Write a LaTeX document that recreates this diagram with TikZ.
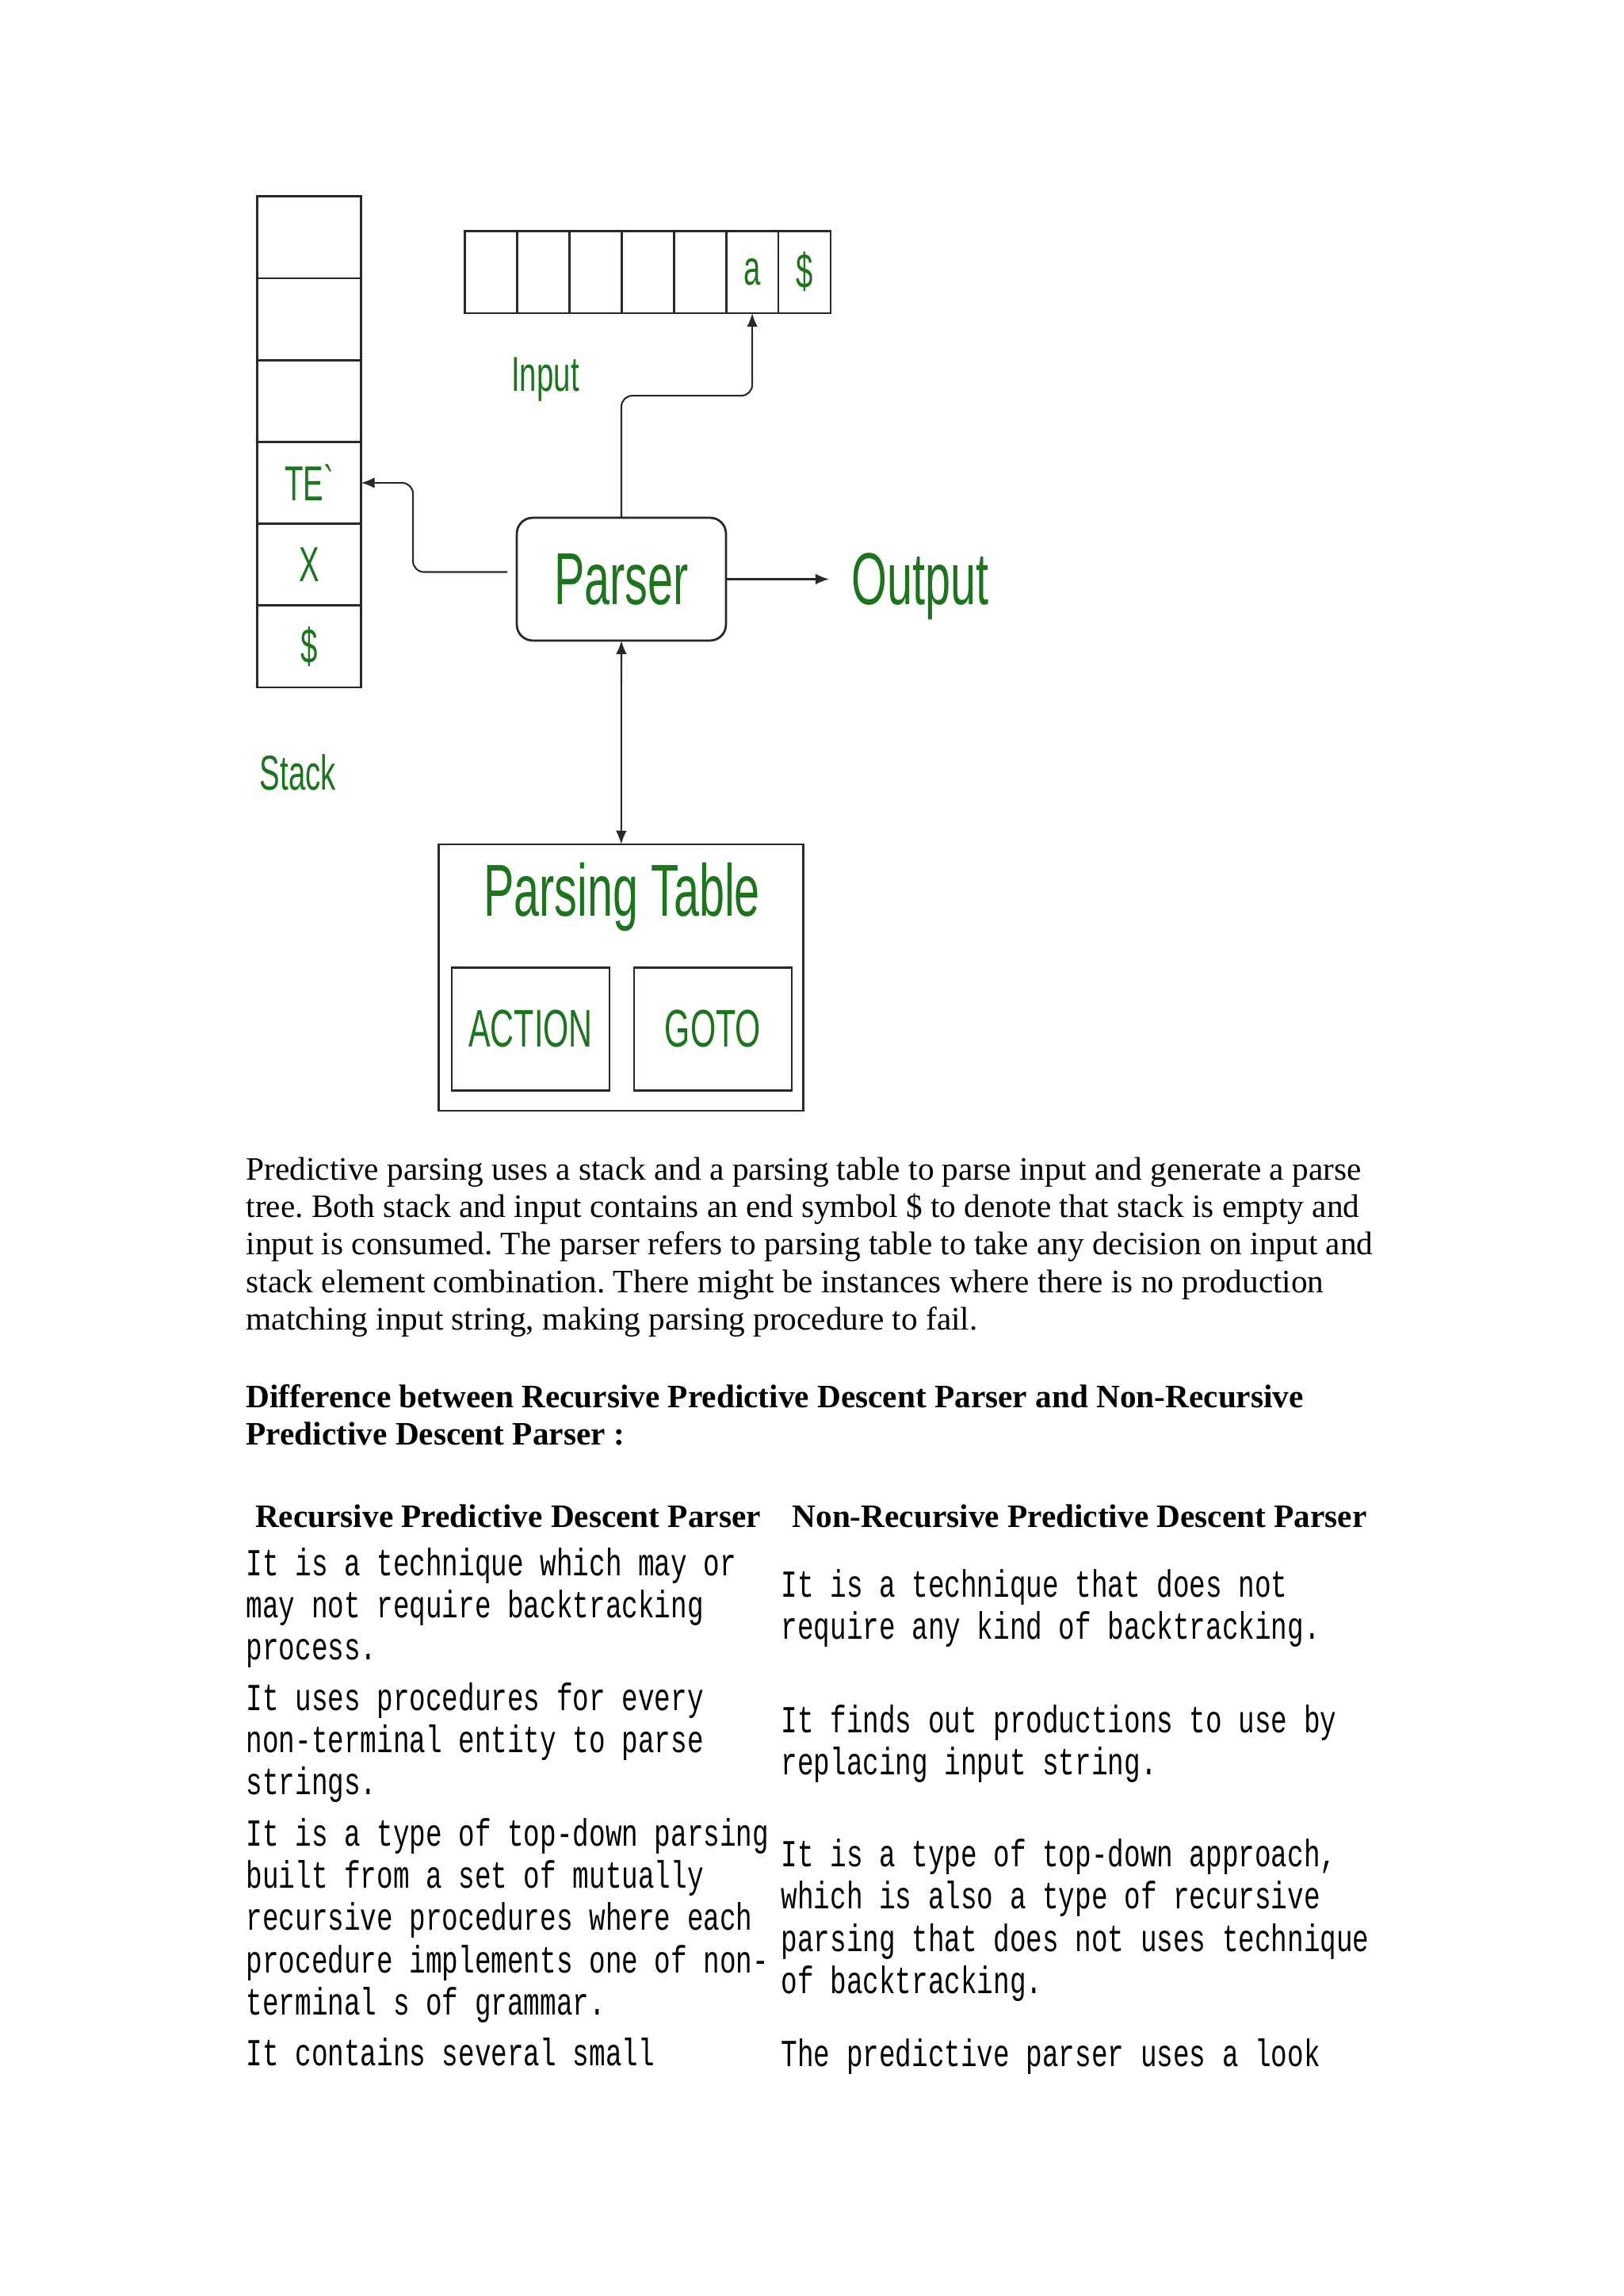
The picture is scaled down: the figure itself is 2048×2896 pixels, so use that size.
\documentclass[tikz,border=0pt]{standalone}
\usepackage{fontspec}
\setmainfont{Liberation Serif}
\newfontfamily\diagfont[FakeStretch=0.62]{Liberation Sans}
\newfontfamily\cellfont[FakeStretch=0.713]{Liberation Mono}
\usetikzlibrary{arrows.meta,positioning,calc}
\definecolor{labelgreen}{RGB}{30,115,30}
\definecolor{linegray}{RGB}{40,40,40}
\newcommand\celltext[1]{\begin{tabular}[t]{@{}l@{}}#1\end{tabular}}
\frenchspacing

\begin{document}
\begin{tikzpicture}[x=0.29066pt,y=-0.29066pt,>={Latex[length=5pt,width=4pt]}]
\tikzstyle{box}=[draw=linegray,line width=0.8pt,inner sep=0pt,outer sep=0pt,text=labelgreen]
\tikzstyle{stackcell}=[box,minimum width=38.1pt,minimum height=30pt,font=\diagfont\fontsize{18}{20}\selectfont]
\tikzstyle{inputcell}=[box,minimum width=19.15pt,minimum height=30.1pt,font=\diagfont\fontsize{18}{20}\selectfont]
\tikzstyle{biglabel}=[inner sep=0pt,text=labelgreen,font=\diagfont\fontsize{27}{30}\selectfont]
\tikzstyle{smalllabel}=[inner sep=0pt,text=labelgreen,font=\diagfont\fontsize{18}{20}\selectfont]
\tikzstyle{arrow}=[draw=linegray,line width=0.6pt]
\tikzstyle{para}=[anchor=base west,inner sep=0pt,font=\fontsize{12}{13.8}\selectfont]
\tikzstyle{head}=[inner sep=0pt,font=\bfseries\fontsize{12}{13.8}\selectfont]
\tikzstyle{entry}=[anchor=base west,inner sep=0pt,font=\cellfont\fontsize{14}{15.5}\selectfont]
\path[fill=white] (0,0) rectangle (2048,2896);

% stack
\node[stackcell] (s1) at (390,299.4) {};
\node[stackcell,below=0pt of s1] (s2) {};
\node[stackcell,below=0pt of s2] (s3) {};
\node[stackcell,below=0pt of s3] (s4) {TE`};
\node[stackcell,below=0pt of s4] (s5) {X};
\node[stackcell,below=0pt of s5] (s6) {\$};
\node[smalllabel,anchor=base] (stack) at (376,996.7) {Stack};

% input buffer
\node[inputcell] (in1) at (619.65,343.2) {};
\node[inputcell,right=0pt of in1] (in2) {};
\node[inputcell,right=0pt of in2] (in3) {};
\node[inputcell,right=0pt of in3] (in4) {};
\node[inputcell,right=0pt of in4] (in5) {};
\node[inputcell,right=0pt of in5] (in6) {a};
\node[inputcell,right=0pt of in6] (in7) {\$};
\node[smalllabel,anchor=base] (input) at (688,493) {Input};

% parser and table
\node[box,rounded corners=5.8pt,minimum width=76.7pt,minimum height=45pt,font=\diagfont\fontsize{27}{30}\selectfont] (parser) at (784,730.5) {Parser};
\node[biglabel,anchor=base west] (output) at (1074,762) {Output};
\node[box,minimum width=133.7pt,minimum height=97.7pt] (table) at (783.8,1233) {};
\node[biglabel,anchor=base] (tabtitle) at (784.5,1155.7) {Parsing Table};
\node[box,minimum width=57.8pt,minimum height=45pt,font=\diagfont\fontsize{19.4}{22}\selectfont] (action) at (669.5,1298) {ACTION};
\node[box,minimum width=57.8pt,minimum height=45pt,font=\diagfont\fontsize{19.4}{22}\selectfont] (goto) at (899.5,1298) {GOTO};

\draw[arrow,->,rounded corners=4pt] (parser.north) -- ++(0,-154) -| (in6.south);
\draw[arrow,->,rounded corners=4pt] ([shift={(-12,-9)}]parser.west) -- ++(-119,0) |- (s4.east);
\draw[arrow,->] (parser.east) -- ($(parser.east -| output.west)+(-28,0)$);
\draw[arrow,<->] (parser.south) -- (table.north);

% text below
\node[para] (intro) at (310,1488) {\celltext{Predictive parsing uses a stack and a parsing table to parse input and generate a parse\\
tree. Both stack and input contains an end symbol \$ to denote that stack is empty and\\
input is consumed. The parser refers to parsing table to take any decision on input and\\
stack element combination. There might be instances where there is no production\\
matching input string, making parsing procedure to fail.}};
\node[head,anchor=base west] (diff) at (310,1775) {\celltext{Difference between Recursive Predictive Descent Parser and Non-Recursive\\
Predictive Descent Parser :}};
\node[head,anchor=base] (hleft) at (641,1926) {Recursive Predictive Descent Parser};
\node[head,anchor=base] (hright) at (1362,1926) {Non-Recursive Predictive Descent Parser};

\node[entry] (r1l) at (310,1987) {\celltext{It is a technique which may or\\may not require backtracking\\process.}};
\node[entry] (r1r) at (985,2014) {\celltext{It is a technique that does not\\require any kind of backtracking.}};
\node[entry] (r2l) at (310,2157) {\celltext{It uses procedures for every\\non-terminal entity to parse\\strings.}};
\node[entry] (r2r) at (985,2185) {\celltext{It finds out productions to use by\\replacing input string.}};
\node[entry] (r3l) at (310,2328) {\celltext{It is a type of top-down parsing\\built from a set of mutually\\recursive procedures where each\\procedure implements one of non-\\terminal s of grammar.}};
\node[entry] (r3r) at (985,2354.5) {\celltext{It is a type of top-down approach,\\which is also a type of recursive\\parsing that does not uses technique\\of backtracking.}};
\node[entry] (r4l) at (310,2605) {It contains several small};
\node[entry] (r4r) at (985,2606) {The predictive parser uses a look};
\end{tikzpicture}
\end{document}
